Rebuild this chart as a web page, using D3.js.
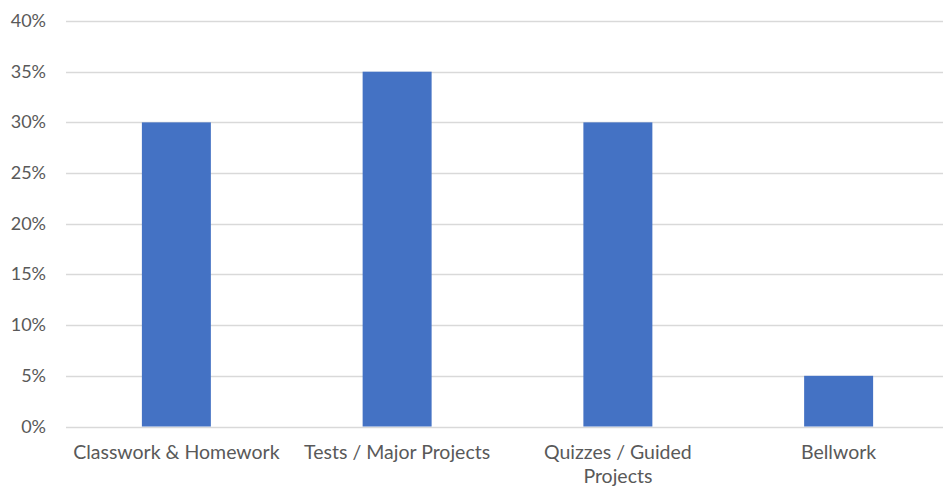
<!DOCTYPE html>
<html>
<head>
<meta charset="utf-8">
<script src="https://cdn.jsdelivr.net/npm/d3@7"></script>
<style>
  body { margin: 0; background: #fff; }
  svg text { font-family: Lato, "Open Sans", sans-serif; fill: #595959; }
</style>
</head>
<body>
<svg width="943" height="487"></svg>
<script>
// chart data
var categories = ["Classwork & Homework", "Tests / Major Projects", "Quizzes / Guided Projects", "Bellwork"];
var weights = [0.30, 0.35, 0.30, 0.05];
var yTicks = [0, 0.05, 0.10, 0.15, 0.20, 0.25, 0.30, 0.35, 0.40];

var svg = d3.select("svg");
var plotLeft = 66, plotRight = 949, plotTop = 21, plotBottom = 426.5;

var x = d3.scaleBand()
    .domain(categories)
    .range([plotLeft, plotRight])
    .paddingInner(0.6875)
    .paddingOuter(0.34375);

var y = d3.scaleLinear()
    .domain([0, 0.4])
    .range([plotBottom, plotTop]);

// gridlines
svg.append("g")
    .selectAll("line")
    .data(yTicks)
    .enter().append("line")
    .attr("x1", plotLeft)
    .attr("x2", 943)
    .attr("y1", function (d) { return Math.round(y(d)) + 0.5; })
    .attr("y2", function (d) { return Math.round(y(d)) + 0.5; })
    .attr("stroke", "#d9d9d9")
    .attr("stroke-width", 1.3);

// y labels
var fmt = d3.format(".0%");
svg.append("g")
    .selectAll("text")
    .data(yTicks)
    .enter().append("text")
    .attr("x", 46)
    .attr("y", function (d) { return y(d) + 6; })
    .attr("text-anchor", "end")
    .style("font-size", "18px")
    .text(function (d) { return fmt(d); });

// bars
svg.append("g")
    .selectAll("rect")
    .data(categories)
    .enter().append("rect")
    .attr("x", function (d) { return x(d); })
    .attr("width", x.bandwidth())
    .attr("y", function (d, i) { return y(weights[i]); })
    .attr("height", function (d, i) { return plotBottom - y(weights[i]); })
    .attr("fill", "#4472c4");

// x labels, wrapped like the spreadsheet does
var maxW = x.step() * 0.96;
var labels = svg.append("g")
    .selectAll("text")
    .data(categories)
    .enter().append("text")
    .attr("x", function (d) { return x(d) + x.bandwidth() / 2; })
    .attr("y", 459)
    .attr("text-anchor", "middle")
    .style("font-size", "19.5px");

labels.each(function (d) {
    var t = d3.select(this);
    var words = d.split(" ");
    var line = [];
    var tspan = t.append("tspan").attr("x", t.attr("x")).attr("dy", 0);
    words.forEach(function (w) {
        line.push(w);
        tspan.text(line.join(" "));
        if (tspan.node().getComputedTextLength() > maxW && line.length > 1) {
            line.pop();
            tspan.text(line.join(" "));
            line = [w];
            tspan = t.append("tspan").attr("x", t.attr("x")).attr("dy", 24).text(w);
        }
    });
});
</script>
</body>
</html>
